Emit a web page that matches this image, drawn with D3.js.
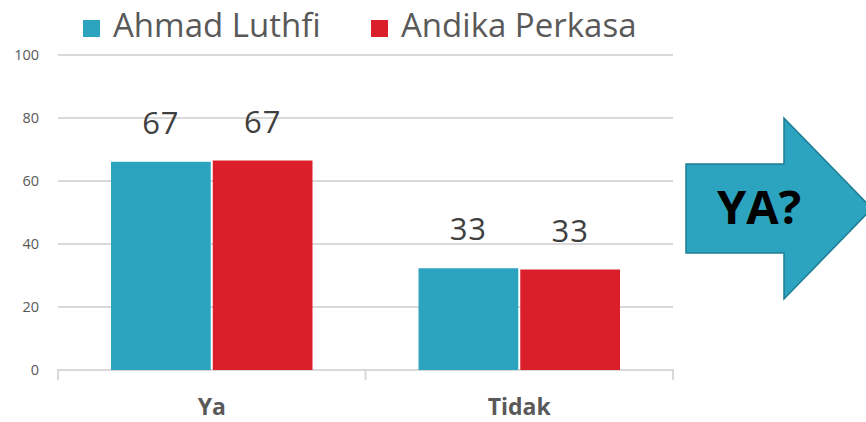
<!DOCTYPE html>
<html>
<head>
<meta charset="utf-8">
<script src="https://cdn.jsdelivr.net/npm/d3@7"></script>
<style>
  body { margin: 0; background: #fff; }
  svg { display: block; font-family: "Open Sans", "Noto Sans", sans-serif; }
</style>
</head>
<body>
<div id="chart"></div>
<script>
const categories = ['Ya', 'Tidak'];
const seriesNames = ['Ahmad Luthfi', 'Andika Perkasa'];
const ahmadValues = [66.1, 32.3];
const andikaValues = [66.5, 31.9];
const valueLabels = [[67, 67], [33, 33]];
const yTicks = [0, 20, 40, 60, 80, 100];
const colors = ['#2ca3bf', '#db1f2a'];

const width = 866, height = 422;
const plotLeft = 58, plotRight = 673, plotTop = 55, plotBottom = 370;

const svg = d3.select('#chart')
  .append('svg')
  .attr('width', width)
  .attr('height', height);

const x = d3.scaleBand().domain(categories).range([plotLeft, plotRight]);
const xs = d3.scaleBand().domain(seriesNames)
  .range([53, x.bandwidth() - 53]).paddingInner(0.02);
const y = d3.scaleLinear().domain([0, 100]).range([plotBottom, plotTop]);

// gridlines
svg.append('g')
  .selectAll('line')
  .data(yTicks.filter(d => d > 0))
  .enter().append('line')
  .attr('x1', plotLeft).attr('x2', plotRight)
  .attr('y1', d => y(d)).attr('y2', d => y(d))
  .attr('stroke', '#d9d9d9').attr('stroke-width', 2);

// y tick labels
svg.append('g')
  .selectAll('text')
  .data(yTicks)
  .enter().append('text')
  .attr('x', 39).attr('y', d => y(d) + 5)
  .attr('text-anchor', 'end')
  .attr('font-size', 14.5)
  .attr('fill', '#595959')
  .text(d => d);

// x axis
const xAxis = d3.axisBottom(x).tickSize(10).tickFormat('');
const gx = svg.append('g')
  .attr('transform', `translate(0,${plotBottom})`)
  .call(xAxis);
gx.select('.domain').attr('stroke', '#d9d9d9').attr('stroke-width', 2)
  .attr('d', `M${plotLeft},10V0H${plotRight}V10`);
gx.selectAll('.tick').remove();
gx.append('line')
  .attr('x1', x('Tidak')).attr('x2', x('Tidak'))
  .attr('y1', 0).attr('y2', 10)
  .attr('stroke', '#d9d9d9').attr('stroke-width', 2);

// category labels
svg.append('g')
  .selectAll('text')
  .data(categories)
  .enter().append('text')
  .attr('x', d => x(d) + x.bandwidth() / 2)
  .attr('y', 415)
  .attr('text-anchor', 'middle')
  .attr('font-size', 23)
  .attr('font-weight', 'bold')
  .attr('fill', '#595959')
  .text(d => d);

// bars
const series = [ahmadValues, andikaValues];
const rows = [];
categories.forEach((c, i) => {
  seriesNames.forEach((s, j) => {
    rows.push({cat: c, name: s, value: series[j][i], label: valueLabels[i][j], color: colors[j]});
  });
});

svg.append('g')
  .selectAll('rect')
  .data(rows)
  .enter().append('rect')
  .attr('x', d => x(d.cat) + xs(d.name))
  .attr('width', xs.bandwidth())
  .attr('y', d => y(d.value))
  .attr('height', d => y(0) - y(d.value))
  .attr('fill', d => d.color);

svg.append('g')
  .selectAll('text')
  .data(rows)
  .enter().append('text')
  .attr('x', d => x(d.cat) + xs(d.name) + xs.bandwidth() / 2)
  .attr('y', d => y(d.value) - 28)
  .attr('text-anchor', 'middle')
  .attr('font-size', 31)
  .attr('letter-spacing', 1)
  .attr('fill', '#404040')
  .text(d => d.label);

// legend
const legendX = [83, 371];
const legend = svg.append('g')
  .selectAll('g')
  .data(seriesNames)
  .enter().append('g')
  .attr('transform', (d, i) => `translate(${legendX[i]},0)`);
legend.append('rect')
  .attr('x', 0).attr('y', 20)
  .attr('width', 17).attr('height', 17)
  .attr('fill', (d, i) => colors[i]);
legend.append('text')
  .attr('x', 30).attr('y', 37)
  .attr('font-size', 33)
  .attr('fill', '#595959')
  .text(d => d);

// arrow
const arrow = svg.append('g');
arrow.append('path')
  .attr('d', 'M686,164H784V118L872,208.5L784,299V253H686Z')
  .attr('fill', '#2ca3bf')
  .attr('stroke', '#1e7d93')
  .attr('stroke-width', 1.5);
arrow.append('text')
  .attr('x', 759).attr('y', 224)
  .attr('text-anchor', 'middle')
  .attr('font-size', 47)
  .attr('font-weight', 'bold')
  .attr('fill', '#000')
  .text('YA?');
</script>
</body>
</html>
